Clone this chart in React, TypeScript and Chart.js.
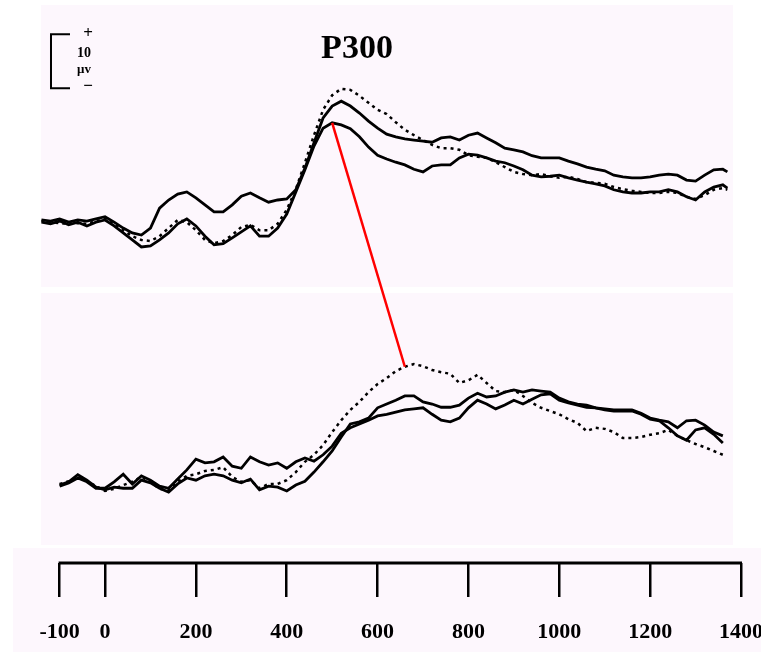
import React, { useEffect, useRef } from 'react';
import { Chart, registerables } from 'chart.js';

Chart.register(...registerables);

// ---- Upper recording (ms / µV) ----
const TOP_TIMES = [
  -140, -120, -100, -80, -60, -40, -20, 0, 20, 40,
  60, 80, 100, 120, 140, 160, 180, 200, 220, 240,
  260, 280, 300, 320, 340, 360, 380, 400, 420, 440,
  460, 480, 500, 520, 540, 560, 580, 600, 620, 640,
  660, 680, 700, 720, 740, 760, 780, 800, 820, 840,
  860, 880, 900, 920, 940, 960, 980, 1000, 1020, 1040,
  1060, 1080, 1100, 1120, 1140, 1160, 1180, 1200, 1220, 1240,
  1260, 1280, 1300, 1320, 1340, 1360, 1370,
];
const TOP_A = [
  0, -0.2, 0.2, -0.4, 0, -0.2, 0.2, 0.6, -0.4, -1.5,
  -2.4, -2.8, -1.5, 2.2, 3.7, 4.8, 5.2, 4.1, 2.8, 1.5,
  1.5, 2.8, 4.4, 5.0, 4.1, 3.3, 3.7, 3.9, 5.6, 9.6,
  14.3, 18.9, 21.1, 22.0, 21.1, 19.8, 18.3, 17.0, 15.9, 15.4,
  15.0, 14.8, 14.6, 14.4, 15.2, 15.4, 14.8, 15.7, 16.1, 15.2,
  14.3, 13.3, 13.0, 12.6, 11.9, 11.5, 11.5, 11.5, 10.9, 10.4,
  9.8, 9.4, 9.1, 8.3, 8.0, 7.8, 7.8, 8.0, 8.3, 8.5,
  8.3, 7.4, 7.2, 8.3, 9.3, 9.4, 8.9,
];
const TOP_B = [
  -0.4, -0.7, -0.2, -0.9, -0.4, -1.1, -0.4, 0, -1.1, -2.4,
  -3.7, -5.0, -4.8, -3.7, -2.4, -0.7, 0.2, -1.1, -3.0, -4.6,
  -4.4, -3.3, -2.2, -1.1, -3.0, -3.0, -1.5, 1.1, 5.2, 9.3,
  13.7, 17.0, 18.0, 17.6, 16.9, 15.4, 13.5, 12.0, 11.3, 10.7,
  10.2, 9.4, 8.9, 10.0, 10.2, 10.2, 11.5, 12.2, 12.0, 11.5,
  10.9, 10.6, 10.0, 9.3, 8.3, 8.0, 8.1, 8.3, 7.8, 7.4,
  7.0, 6.7, 6.3, 5.6, 5.2, 5.0, 5.0, 5.2, 5.2, 5.6,
  5.2, 4.3, 3.7, 5.2, 6.1, 6.5, 5.9,
];
const TOP_C = [
  -0.2, -0.4, -0.6, -0.7, -0.6, -0.7, -0.2, 0.2, -0.7, -1.9,
  -3.0, -3.7, -3.9, -3.0, -1.5, 0, -0.4, -1.9, -3.7, -4.3,
  -3.9, -2.8, -1.3, -0.9, -1.9, -1.9, -0.7, 1.9, 5.7, 10.6,
  15.7, 20.4, 23.1, 24.3, 24.1, 23.0, 21.7, 20.4, 19.6, 18.1,
  16.7, 15.7, 14.8, 13.9, 13.3, 13.3, 13.0, 12.0, 11.7, 11.5,
  10.7, 9.8, 8.9, 8.5, 8.3, 8.5, 8.1, 7.8, 8.0, 7.6,
  7.0, 6.9, 6.7, 6.1, 5.7, 5.4, 5.2, 5.0, 5.0, 5.2,
  5.0, 4.3, 3.9, 4.6, 5.6, 5.9, 5.6,
];

// ---- Lower recording (ms / µV) ----
const BOT_TIMES = [
  -100, -80, -60, -40, -20, 0, 20, 40, 60, 80,
  100, 120, 140, 160, 180, 200, 220, 240, 260, 280,
  300, 320, 340, 360, 380, 400, 420, 440, 460, 480,
  500, 520, 540, 560, 580, 600, 620, 640, 660, 680,
  700, 720, 740, 760, 780, 800, 820, 840, 860, 880,
  900, 920, 940, 960, 980, 1000, 1020, 1040, 1060, 1080,
  1100, 1120, 1140, 1160, 1180, 1200, 1220, 1240, 1260, 1280,
  1300, 1320, 1340, 1360,
];
const BOT_E = [
  0, 0.6, 1.9, 0.9, -0.4, -0.9, -0.4, -0.6, -0.6, 0.9,
  0.4, -0.6, -1.3, 0.2, 1.3, 0.9, 1.7, 2.0, 1.7, 0.9,
  0.4, 1.1, -0.9, -0.2, -0.4, -1.1, 0, 0.7, 2.4, 4.3,
  6.3, 8.9, 11.3, 11.7, 12.4, 14.3, 15.0, 15.7, 16.5, 16.5,
  15.4, 15.0, 14.4, 14.4, 14.8, 16.1, 17.0, 16.3, 16.5, 17.2,
  17.6, 17.2, 17.6, 17.4, 17.2, 16.1, 15.4, 15.0, 14.8, 14.3,
  14.1, 13.9, 13.9, 13.9, 13.3, 12.4, 12.0, 11.7, 10.6, 11.9,
  12.0, 11.1, 9.8, 9.1,
];
const BOT_F = [
  -0.2, 0.4, 1.3, 0.6, -0.6, -0.6, 0.6, 2.0, 0.2, 1.7,
  0.9, -0.2, -0.6, 1.1, 2.8, 4.8, 4.1, 4.3, 5.2, 3.5,
  3.1, 5.2, 4.3, 3.7, 4.1, 3.1, 4.3, 5.0, 4.4, 5.6,
  7.2, 9.6, 10.6, 11.3, 12.0, 12.8, 13.1, 13.5, 13.9, 14.1,
  14.3, 13.1, 12.0, 11.7, 12.4, 14.3, 15.7, 15.0, 14.1, 14.8,
  15.7, 15.0, 15.9, 16.7, 16.9, 15.7, 15.2, 14.8, 14.4, 14.3,
  13.9, 13.7, 13.7, 13.7, 13.1, 12.2, 11.9, 10.6, 9.1, 8.3,
  10.2, 10.6, 9.4, 7.8,
];
const BOT_G = [
  0.2, 0.7, 1.5, 0.7, -0.2, -1.1, -0.7, 0, 0.6, 1.5,
  0.6, -0.7, -0.9, 0.6, 1.7, 2.0, 2.6, 2.8, 3.3, 1.5,
  0.6, 0.9, -0.6, 0.2, 0.2, 0.9, 2.4, 4.3, 5.6, 7.4,
  9.8, 12.0, 13.9, 15.4, 17.2, 18.7, 19.8, 21.1, 21.9, 22.4,
  22.0, 21.3, 20.9, 20.6, 18.9, 19.4, 20.4, 18.9, 17.4, 17.2,
  17.6, 16.5, 15.2, 14.3, 13.7, 13.1, 12.2, 11.5, 10.0, 10.6,
  10.4, 9.8, 8.7, 8.7, 8.9, 9.3, 9.6, 10.2, 9.1, 8.3,
  7.6, 7.0, 6.3, 5.6,
];

// ---- Axis ----
const X_MIN = -141;
const X_MAX = 1400;
const X_TICKS = [-100, 0, 200, 400, 600, 800, 1000, 1200, 1400];

// Both panels share one 5.4 px/µV vertical scale, stacked on one canvas
const TOP_RANGE = { min: -63.52, max: 39.81 };
const BOT_RANGE = { min: -14.44, max: 88.89 };

// Calibration bar: 10 µV, positive up
const SCALE_BAR = { t: -119, low: 24.4, high: 34.4 };

// P300 latency shift: peak of the upper trace -> peak of the lower dotted trace
const LINK_FROM = { t: TOP_TIMES[32], v: TOP_B[32] };
const LINK_TO = { t: BOT_TIMES[38], v: BOT_G[38] };

const PANEL_BG = '#fdf7fd';
const SERIF = "'Liberation Serif', 'DejaVu Serif', 'Times New Roman', serif";

const pts = (ts: number[], vs: number[]) => ts.map((t, i) => ({ x: t, y: vs[i] }));

const decorPlugin = {
  id: 'erpDecor',
  beforeDraw(chart: any) {
    const { ctx, chartArea: a, width, height } = chart;
    ctx.save();
    ctx.fillStyle = '#ffffff';
    ctx.fillRect(0, 0, width, height);
    ctx.fillStyle = PANEL_BG;
    ctx.fillRect(a.left, a.top, 692, 282);
    ctx.fillRect(a.left, a.top + 288, 692, 252);
    ctx.fillRect(13, a.top + 543, width - 13, height - (a.top + 543));
    ctx.restore();
  },
  afterDatasetsDraw(chart: any) {
    const { ctx, scales } = chart;
    const x = scales.x;
    ctx.save();
    ctx.strokeStyle = '#ff0000';
    ctx.lineWidth = 2.5;
    ctx.beginPath();
    ctx.moveTo(x.getPixelForValue(LINK_FROM.t), scales.yTop.getPixelForValue(LINK_FROM.v));
    ctx.lineTo(x.getPixelForValue(LINK_TO.t), scales.yBot.getPixelForValue(LINK_TO.v));
    ctx.stroke();
    ctx.restore();
  },
  afterDraw(chart: any) {
    const { ctx, scales, chartArea: a } = chart;
    const x = scales.x;
    const yTop = scales.yTop;
    ctx.save();
    // time axis baseline
    ctx.strokeStyle = '#000';
    ctx.lineWidth = 3;
    ctx.beginPath();
    ctx.moveTo(x.getPixelForValue(X_TICKS[0]) - 1, a.bottom);
    ctx.lineTo(x.getPixelForValue(X_TICKS[X_TICKS.length - 1]) + 1, a.bottom);
    ctx.stroke();

    // calibration bracket
    const bx = x.getPixelForValue(SCALE_BAR.t);
    const by1 = yTop.getPixelForValue(SCALE_BAR.high);
    const by2 = yTop.getPixelForValue(SCALE_BAR.low);
    ctx.lineWidth = 2;
    ctx.beginPath();
    ctx.moveTo(bx + 19, by1);
    ctx.lineTo(bx, by1);
    ctx.lineTo(bx, by2);
    ctx.lineTo(bx + 19, by2);
    ctx.stroke();
    ctx.fillStyle = '#000';
    ctx.textAlign = 'center';
    ctx.textBaseline = 'middle';
    ctx.font = `bold 17px ${SERIF}`;
    ctx.fillText('+', bx + 37, by1 - 1);
    ctx.fillText('\u2212', bx + 37, by2 - 2);
    ctx.font = `bold 14px ${SERIF}`;
    ctx.fillText('10', bx + 33, by1 + 19);
    ctx.font = `bold 13px ${SERIF}`;
    ctx.fillText('\u03bcv', bx + 33, by1 + 35);

    // title
    ctx.font = `bold 34px ${SERIF}`;
    ctx.textBaseline = 'alphabetic';
    ctx.fillText('P300', 357, 58);
    ctx.restore();
  },
};

export default function App() {
  const ref = useRef<HTMLCanvasElement>(null);

  useEffect(() => {
    const canvas = ref.current;
    if (!canvas) return;
    const solid = { borderColor: '#000', borderWidth: 2.8, pointRadius: 0, tension: 0, fill: false };
    const dotted = { ...solid, borderWidth: 2.5, borderDash: [3, 4] };
    const chart = new Chart(canvas, {
      type: 'line',
      data: {
        datasets: [
          { ...solid, label: 'upper 1', data: pts(TOP_TIMES, TOP_A), yAxisID: 'yTop' },
          { ...solid, label: 'upper 2', data: pts(TOP_TIMES, TOP_B), yAxisID: 'yTop' },
          { ...dotted, label: 'upper 3', data: pts(TOP_TIMES, TOP_C), yAxisID: 'yTop' },
          { ...solid, label: 'lower 1', data: pts(BOT_TIMES, BOT_E), yAxisID: 'yBot' },
          { ...solid, label: 'lower 2', data: pts(BOT_TIMES, BOT_F), yAxisID: 'yBot' },
          { ...dotted, label: 'lower 3', data: pts(BOT_TIMES, BOT_G), yAxisID: 'yBot' },
        ],
      },
      options: {
        animation: false,
        responsive: true,
        maintainAspectRatio: false,
        events: [],
        layout: { padding: { left: 41, right: 20, top: 5, bottom: 0 } },
        plugins: {
          legend: { display: false },
          tooltip: { enabled: false },
          title: { display: false },
        },
        scales: {
          x: {
            type: 'linear',
            min: X_MIN,
            max: X_MAX,
            afterBuildTicks: (s: any) => {
              s.ticks = X_TICKS.map((v) => ({ value: v }));
            },
            afterFit: (s: any) => {
              s.height = 89;
              s.paddingLeft = 0;
              s.paddingRight = 0;
            },
            grid: {
              display: true,
              drawOnChartArea: false,
              drawTicks: true,
              tickLength: 34,
              color: '#000',
              lineWidth: 2.5,
            },
            border: { display: false },
            ticks: {
              color: '#000',
              padding: 22,
              maxRotation: 0,
              autoSkip: false,
              font: { family: SERIF, weight: 'bold', size: 22 },
              callback: (v: any) => String(v),
            },
          },
          yTop: { type: 'linear', display: false, min: TOP_RANGE.min, max: TOP_RANGE.max },
          yBot: { type: 'linear', display: false, min: BOT_RANGE.min, max: BOT_RANGE.max },
        },
      },
      plugins: [decorPlugin],
    } as any);
    return () => chart.destroy();
  }, []);

  return (
    <div style={{ position: 'fixed', left: 0, top: 0, width: 761, height: 652, background: '#fff' }}>
      <canvas ref={ref} />
    </div>
  );
}
